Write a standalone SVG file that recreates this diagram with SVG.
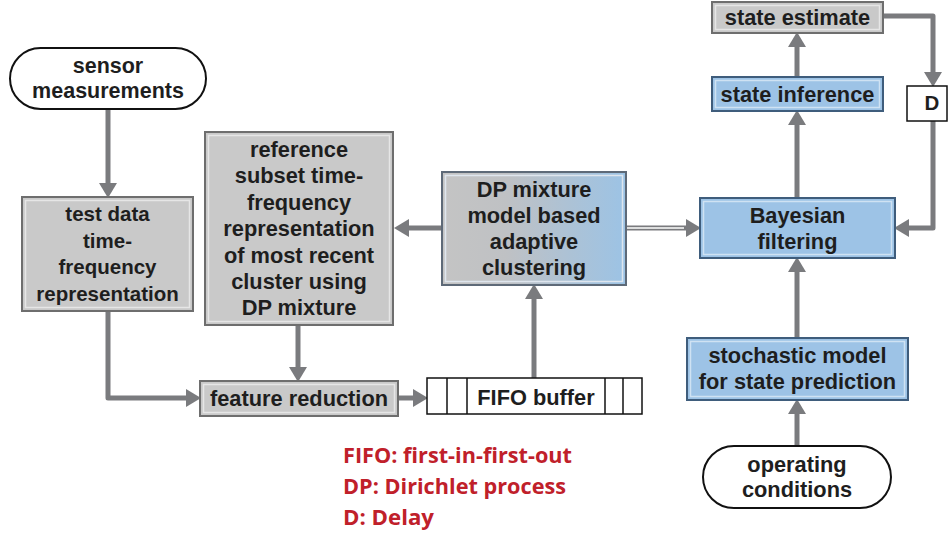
<svg xmlns="http://www.w3.org/2000/svg" width="950" height="535" viewBox="0 0 950 535">
<defs>
<marker id="ah" markerUnits="userSpaceOnUse" markerWidth="16" markerHeight="18" viewBox="0 0 16 18" refX="1" refY="9" orient="auto">
<path d="M0,0 L15,9 L0,18 z" fill="#7a7b7e"/>
</marker>
<linearGradient id="dpg" x1="0" y1="0" x2="1" y2="0">
<stop offset="0" stop-color="#c4c4c4"/>
<stop offset="0.35" stop-color="#bfc1c4"/>
<stop offset="1" stop-color="#9cc3e5"/>
</linearGradient>
<style>
.t{font-family:"Liberation Sans",Arial,sans-serif;font-weight:bold;font-size:21.8px;fill:#1e1e1e;text-anchor:middle}
.s1{font-size:21.5px}
.s2{font-size:20.5px}
.gray{fill:#c9c9c9;stroke:#6e6e6e;stroke-width:2}
.grayin{fill:none;stroke:#e6e6e6;stroke-width:1.5}
.blue{fill:#9dc3e6;stroke:#3f5d7c;stroke-width:2}
.bluein{fill:none;stroke:#cfe2f3;stroke-width:1.5}
.oval{fill:#fff;stroke:#111;stroke-width:2}
.c{fill:none;stroke:#7a7b7e;stroke-width:5;stroke-linejoin:round}
.red{font-family:"Open Sans","Noto Sans",sans-serif;font-weight:700;font-size:21px;fill:#c0202a}
</style>
</defs>

<g id="connectors">
<path class="c" d="M108,109 V184" marker-end="url(#ah)"/>
<path class="c" d="M108,311 V398 H187" marker-end="url(#ah)"/>
<path class="c" d="M298,325 V368" marker-end="url(#ah)"/>
<path class="c" d="M398,398 H414" marker-end="url(#ah)"/>
<path class="c" d="M534,378 V298" marker-end="url(#ah)"/>
<path class="c" d="M442,228 H408" marker-end="url(#ah)"/>
<path class="c" d="M626,228 H687" marker-end="url(#ah)"/>
<path d="M626,228 H684" fill="none" stroke="#fff" stroke-width="1.6"/>
<path class="c" d="M797,198 V124" marker-end="url(#ah)"/>
<path class="c" d="M797,77 V46" marker-end="url(#ah)"/>
<path class="c" d="M883,16 H933 V73" marker-end="url(#ah)"/>
<path class="c" d="M933,121 V228 H908" marker-end="url(#ah)"/>
<path class="c" d="M797,338 V271" marker-end="url(#ah)"/>
<path class="c" d="M797,446 V413" marker-end="url(#ah)"/>
</g>

<g id="sensor">
<rect class="oval" x="10" y="48" width="196" height="61" rx="30.5"/>
<text class="t s1" x="108" y="73">sensor</text>
<text class="t s1" x="108" y="98">measurements</text>
</g>

<g id="testdata">
<rect class="gray" x="22" y="197" width="171" height="114"/>
<rect class="grayin" x="25.5" y="200.5" width="164" height="107"/>
<text class="t s2" x="107.5" y="221">test data</text>
<text class="t s2" x="107.5" y="248">time-</text>
<text class="t s2" x="107.5" y="274">frequency</text>
<text class="t s2" x="107.5" y="301">representation</text>
</g>

<g id="reference">
<rect class="gray" x="205" y="132" width="188" height="193"/>
<rect class="grayin" x="208.5" y="135.5" width="181" height="186"/>
<text class="t" x="299" y="157">reference</text>
<text class="t" x="299" y="183">subset time-</text>
<text class="t" x="299" y="210">frequency</text>
<text class="t" x="299" y="236">representation</text>
<text class="t" x="299" y="263">of most recent</text>
<text class="t" x="299" y="289">cluster using</text>
<text class="t" x="299" y="315">DP mixture</text>
</g>

<g id="dpmixture">
<rect x="442" y="172" width="184" height="113" fill="url(#dpg)" stroke="#5e6a78" stroke-width="2"/>
<rect x="445.5" y="175.5" width="177" height="106" fill="none" stroke="#dfe6ee" stroke-width="1.5"/>
<text class="t" x="534" y="197">DP mixture</text>
<text class="t" x="534" y="223">model based</text>
<text class="t" x="534" y="249">adaptive</text>
<text class="t" x="534" y="275">clustering</text>
</g>

<g id="feature">
<rect class="gray" x="200" y="381" width="198" height="35"/>
<rect class="grayin" x="203.5" y="384.5" width="191" height="28"/>
<text class="t" x="299" y="406">feature reduction</text>
</g>

<g id="fifo">
<rect x="427" y="378" width="215" height="36" fill="#fff" stroke="#111" stroke-width="1.5"/>
<line x1="447" y1="378" x2="447" y2="414" stroke="#111" stroke-width="1.5"/>
<line x1="467" y1="378" x2="467" y2="414" stroke="#111" stroke-width="1.5"/>
<line x1="605" y1="378" x2="605" y2="414" stroke="#111" stroke-width="1.5"/>
<line x1="623" y1="378" x2="623" y2="414" stroke="#111" stroke-width="1.5"/>
<text class="t" x="536" y="405">FIFO buffer</text>
</g>

<g id="stateestimate">
<rect class="gray" x="712" y="2" width="171" height="31"/>
<rect class="grayin" x="715.5" y="5.5" width="164" height="24"/>
<text class="t" x="797.5" y="25">state estimate</text>
</g>

<g id="stateinference">
<rect class="blue" x="712" y="77" width="171" height="34"/>
<rect class="bluein" x="715.5" y="80.5" width="164" height="27"/>
<text class="t" x="797.5" y="102">state inference</text>
</g>

<g id="delay">
<rect x="907" y="86" width="40" height="35" fill="#fff" stroke="#111" stroke-width="1.5"/>
<text class="t s2" x="932" y="110">D</text>
</g>

<g id="bayesian">
<rect class="blue" x="700" y="198" width="195" height="60"/>
<rect class="bluein" x="703.5" y="201.5" width="188" height="53"/>
<text class="t" x="797.5" y="223">Bayesian</text>
<text class="t" x="797.5" y="249">filtering</text>
</g>

<g id="stochastic">
<rect class="blue" x="687" y="338" width="221" height="62"/>
<rect class="bluein" x="690.5" y="341.5" width="214" height="55"/>
<text class="t" x="797.5" y="363">stochastic model</text>
<text class="t" x="797.5" y="389">for state prediction</text>
</g>

<g id="operating">
<rect class="oval" x="703" y="446" width="188" height="62" rx="31"/>
<text class="t" x="797" y="472">operating</text>
<text class="t" x="797" y="497">conditions</text>
</g>

<g id="legend">
<text class="red" x="343" y="463" textLength="229" lengthAdjust="spacingAndGlyphs">FIFO: first-in-first-out</text>
<text class="red" x="343" y="494" textLength="223" lengthAdjust="spacingAndGlyphs">DP: Dirichlet process</text>
<text class="red" x="343" y="525" textLength="91" lengthAdjust="spacingAndGlyphs">D: Delay</text>
</g>
</svg>
